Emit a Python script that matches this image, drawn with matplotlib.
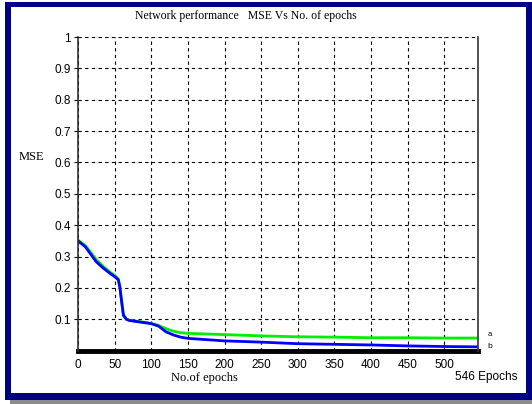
import numpy as np
import matplotlib.pyplot as plt
from matplotlib.patches import Rectangle

# epochs and MSE values
epochs = [0, 10, 25, 35, 45, 50, 55, 57, 60, 62, 66, 70, 85, 100, 110, 120, 130, 140, 150,
          175, 200, 250, 300, 350, 400, 450, 500, 546]
mse_a = [0.352, 0.335, 0.290, 0.267, 0.248, 0.240, 0.228, 0.205, 0.150, 0.113, 0.100, 0.097,
         0.092, 0.087, 0.080, 0.070, 0.062, 0.057, 0.055, 0.053, 0.051, 0.047, 0.044, 0.043,
         0.041, 0.041, 0.040, 0.040]
mse_b = [0.350, 0.331, 0.283, 0.262, 0.244, 0.236, 0.226, 0.204, 0.148, 0.113, 0.100, 0.096,
         0.091, 0.086, 0.078, 0.060, 0.050, 0.043, 0.039, 0.035, 0.031, 0.027, 0.022, 0.020,
         0.018, 0.015, 0.013, 0.012]
xticks = [0, 50, 100, 150, 200, 250, 300, 350, 400, 450, 500]
yticks = [0.1, 0.2, 0.3, 0.4, 0.5, 0.6, 0.7, 0.8, 0.9, 1.0]
ylabels = ["0.1", "0.2", "0.3", "0.4", "0.5", "0.6", "0.7", "0.8", "0.9", "1"]

W, H = 532, 404
fig = plt.figure(figsize=(W / 100, H / 100), dpi=100)
fig.patch.set_facecolor("white")

def box(x, y, w, h, color):
    # pixel box with top-left origin
    fig.add_artist(Rectangle((x / W, 1 - (y + h) / H), w / W, h / H,
                             transform=fig.transFigure, color=color, lw=0))

box(10, 400, 522, 4, "#8c8c8c")
box(5, 2, 527, 5, "#000080")
box(5, 2, 6, 398, "#000080")
box(526, 2, 6, 398, "#000080")
box(5, 393, 527, 7, "#000080")

ax = fig.add_axes([78 / W, 1 - 350.6 / H, 400 / W, 313.6 / H])
ax.plot(epochs, mse_a, color="#00ee00", lw=2)
ax.plot(epochs, mse_b, color="#0000ff", lw=2)
ax.axhline(0, color="black", lw=3.5, clip_on=False)

ax.set_xlim(0, 546)
ax.set_ylim(0, 1)
ax.set_xticks(xticks)
ax.set_yticks(yticks)
ax.set_yticklabels(ylabels)
ax.grid(True, color="black", ls=(0, (3, 3)), lw=0.8)
ax.spines["top"].set_visible(False)
ax.spines["bottom"].set_visible(False)
for s in ["left", "right"]:
    ax.spines[s].set_color("#333333")
    ax.spines[s].set_linewidth(1.2)
ax.tick_params(length=3, width=0.8, pad=2, labelsize=8.5, direction="out")
ax.tick_params(axis="x", length=0, pad=6)
for lab in ax.get_xticklabels() + ax.get_yticklabels():
    lab.set_family("Liberation Sans")

serif = "Liberation Serif"
fig.text(246 / W, 1 - 16 / H, "Network performance   MSE Vs No. of epochs",
         family=serif, fontsize=8.5, ha="center", va="center")
fig.text(31 / W, 1 - 157 / H, "MSE", family=serif, fontsize=9, ha="center", va="center")
fig.text(204 / W, 1 - 378 / H, "No.of epochs", family=serif, fontsize=9, ha="center", va="center")
fig.text(486 / W, 1 - 377 / H, "546 Epochs", family="Liberation Sans", fontsize=8.5,
         ha="center", va="center")
fig.text(490 / W, 1 - 334 / H, "a", family="Liberation Sans", fontsize=5.5, ha="center", va="center")
fig.text(490 / W, 1 - 347 / H, "b", family="Liberation Sans", fontsize=6, ha="center", va="center")

fig.savefig("out.png", dpi=100)
